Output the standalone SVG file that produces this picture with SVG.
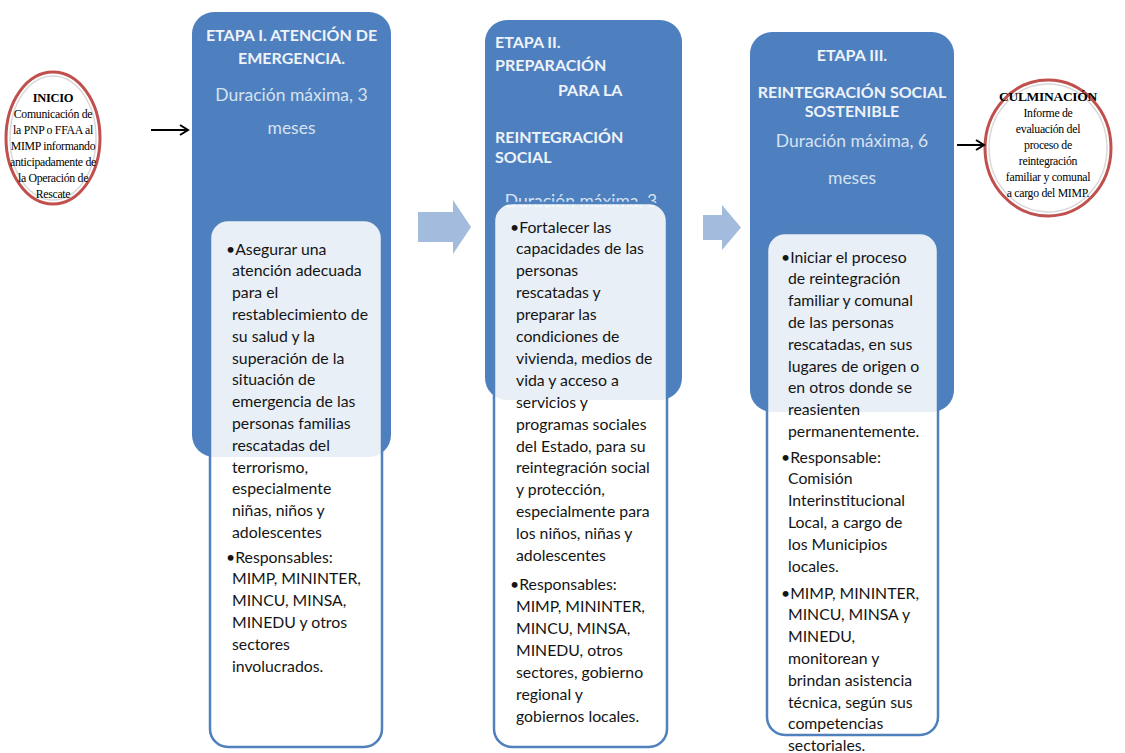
<svg xmlns="http://www.w3.org/2000/svg" width="1125" height="753" viewBox="0 0 1125 753">
<defs>
<marker id="ah" markerWidth="12" markerHeight="12" refX="10" refY="6" orient="auto" markerUnits="userSpaceOnUse"><path d="M2,1 L10,6 L2,11" fill="none" stroke="#000" stroke-width="2"/></marker>
<style>
.stage{fill:#4e80bf}
.card{fill:#ffffff;fill-opacity:.87;stroke:#4f81bd;stroke-width:2.5}
.title{font-family:Lato,"Liberation Sans",sans-serif;font-weight:700;font-size:16px;fill:#eef3fa}
.dur{font-family:Lato,"Liberation Sans",sans-serif;font-size:17.5px;fill:#d6e2f1}
.body{font-family:Lato,"Liberation Sans",sans-serif;font-size:15.8px;fill:#141414}
.circ{fill:#ffffff;stroke:#c0504d;stroke-width:3}
.ring{fill:none;stroke:#d9d9d9;stroke-width:1.5}
.ctext{font-family:"Liberation Serif",serif;font-size:11.8px;fill:#000;text-anchor:middle;letter-spacing:-0.3px}
.chead{font-weight:700}
.blk{fill:#a3bbdd}
.conn{stroke:#000;stroke-width:2;fill:none}
.mid{text-anchor:middle}
</style>
</defs>
<rect width="1125" height="753" fill="#ffffff"/>

<g id="inicio">
<ellipse class="circ" cx="53" cy="138" rx="47" ry="66"/>
<ellipse class="ring" cx="53" cy="138" rx="43" ry="62"/>
<text class="ctext"><tspan class="chead" x="53" y="102" font-size="12.5">INICIO</tspan><tspan x="53" y="118">Comunicación de</tspan><tspan x="53" y="134">la PNP o FFAA al</tspan><tspan x="53" y="150">MIMP informando</tspan><tspan x="53" y="166">anticipadamente de</tspan><tspan x="53" y="182">la Operación de</tspan><tspan x="53" y="198">Rescate</tspan></text>
</g>

<g id="etapa1">
<rect class="stage" x="192" y="12" width="199" height="445" rx="22"/>
<text class="title mid"><tspan x="291.5" y="41">ETAPA I. ATENCIÓN DE</tspan><tspan x="291.5" y="64">EMERGENCIA.</tspan></text>
<text class="dur mid"><tspan x="291.5" y="101">Duración máxima, 3</tspan><tspan x="291.5" y="134">meses</tspan></text>
<rect class="card" x="210" y="220" width="172" height="527" rx="18"/>
<text class="body"><tspan x="226" y="254.5">•Asegurar una</tspan><tspan x="232" y="276.3">atención adecuada</tspan><tspan x="232" y="298.1">para el</tspan><tspan x="232" y="319.9">restablecimiento de</tspan><tspan x="232" y="341.7">su salud y la</tspan><tspan x="232" y="363.5">superación de la</tspan><tspan x="232" y="385.3">situación de</tspan><tspan x="232" y="407.1">emergencia de las</tspan><tspan x="232" y="428.9">personas  familias</tspan><tspan x="232" y="450.7">rescatadas del</tspan><tspan x="232" y="472.5">terrorismo,</tspan><tspan x="232" y="494.3">especialmente</tspan><tspan x="232" y="516.1">niñas, niños y</tspan><tspan x="232" y="537.9">adolescentes</tspan><tspan x="226" y="562.5">•Responsables:</tspan><tspan x="232" y="584.3">MIMP, MININTER,</tspan><tspan x="232" y="606.1">MINCU, MINSA,</tspan><tspan x="232" y="627.9">MINEDU y otros</tspan><tspan x="232" y="649.7">sectores</tspan><tspan x="232" y="671.5">involucrados.</tspan></text>
</g>

<g id="etapa2">
<rect class="stage" x="485" y="20" width="197" height="380" rx="22"/>
<text class="title"><tspan x="495" y="48">ETAPA II.</tspan><tspan x="495" y="71">PREPARACIÓN</tspan><tspan x="558" y="96">PARA LA</tspan><tspan x="495" y="143">REINTEGRACIÓN</tspan><tspan x="495" y="163">SOCIAL</tspan></text>
<text class="dur mid" x="581" y="207">Duración máxima, 3</text>
<rect class="card" x="494" y="203" width="173" height="544" rx="18"/>
<text class="body"><tspan x="510" y="232.5">•Fortalecer las</tspan><tspan x="516" y="254.4">capacidades de las</tspan><tspan x="516" y="276.3">personas</tspan><tspan x="516" y="298.2">rescatadas y</tspan><tspan x="516" y="320.1">preparar las</tspan><tspan x="516" y="342">condiciones de</tspan><tspan x="516" y="363.9">vivienda, medios de</tspan><tspan x="516" y="385.8">vida y acceso a</tspan><tspan x="516" y="407.7">servicios y</tspan><tspan x="516" y="429.6">programas sociales</tspan><tspan x="516" y="451.5">del Estado, para su</tspan><tspan x="516" y="473.4">reintegración social</tspan><tspan x="516" y="495.3">y protección,</tspan><tspan x="516" y="517.2">especialmente para</tspan><tspan x="516" y="539.1">los niños, niñas y</tspan><tspan x="516" y="561">adolescentes</tspan><tspan x="510" y="589.5">•Responsables:</tspan><tspan x="516" y="611.5">MIMP, MININTER,</tspan><tspan x="516" y="633.5">MINCU, MINSA,</tspan><tspan x="516" y="655.5">MINEDU,  otros</tspan><tspan x="516" y="677.5">sectores, gobierno</tspan><tspan x="516" y="699.5">regional y</tspan><tspan x="516" y="721.5">gobiernos locales.</tspan></text>
</g>

<g id="etapa3">
<rect class="stage" x="750" y="32" width="204" height="380" rx="22"/>
<text class="title mid"><tspan x="852" y="61">ETAPA III.</tspan><tspan x="852" y="98">REINTEGRACIÓN SOCIAL</tspan><tspan x="852" y="117">SOSTENIBLE</tspan></text>
<text class="dur mid"><tspan x="852" y="147">Duración máxima, 6</tspan><tspan x="852" y="184">meses</tspan></text>
<rect class="card" x="767" y="233" width="171" height="502" rx="18"/>
<text class="body"><tspan x="781" y="262.5">•Iniciar el proceso</tspan><tspan x="788" y="284.3">de reintegración</tspan><tspan x="788" y="306.1">familiar y comunal</tspan><tspan x="788" y="327.9">de las personas</tspan><tspan x="788" y="349.7">rescatadas,  en sus</tspan><tspan x="788" y="371.5">lugares de origen o</tspan><tspan x="788" y="393.3">en otros donde se</tspan><tspan x="788" y="415.1">reasienten</tspan><tspan x="788" y="436.9">permanentemente.</tspan><tspan x="781" y="462.5">•Responsable:</tspan><tspan x="788" y="484.3">Comisión</tspan><tspan x="788" y="506.1">Interinstitucional</tspan><tspan x="788" y="527.9">Local, a cargo de</tspan><tspan x="788" y="549.7">los Municipios</tspan><tspan x="788" y="571.5">locales.</tspan><tspan x="781" y="598.5">•MIMP, MININTER,</tspan><tspan x="788" y="620.3">MINCU, MINSA y</tspan><tspan x="788" y="642.1">MINEDU,</tspan><tspan x="788" y="663.9">monitorean y</tspan><tspan x="788" y="685.7">brindan asistencia</tspan><tspan x="788" y="707.5">técnica, según sus</tspan><tspan x="788" y="729.3">competencias</tspan><tspan x="788" y="751">sectoriales.</tspan></text>
</g>

<g id="culminacion">
<ellipse class="circ" cx="1048" cy="148" rx="63" ry="68"/>
<ellipse class="ring" cx="1048" cy="148" rx="59" ry="64"/>
<text class="ctext"><tspan class="chead" x="1048" y="101" font-size="13.5">CULMINACIÓN</tspan><tspan x="1048" y="117">Informe de</tspan><tspan x="1048" y="133">evaluación del</tspan><tspan x="1048" y="149">proceso de</tspan><tspan x="1048" y="165">reintegración</tspan><tspan x="1048" y="181">familiar y comunal</tspan><tspan x="1048" y="197">a cargo del MIMP.</tspan></text>
</g>

<g id="connectors">
<line class="conn" x1="151" y1="130" x2="188" y2="130" marker-end="url(#ah)"/>
<line class="conn" x1="957" y1="145" x2="984" y2="145" marker-end="url(#ah)"/>
<path class="blk" d="M418,212 H453 V200 L471,227 L453,254 V242 H418 Z"/>
<path class="blk" d="M703,215 H722 V205 L741,227.5 L722,250 V240 H703 Z"/>
</g>
</svg>
